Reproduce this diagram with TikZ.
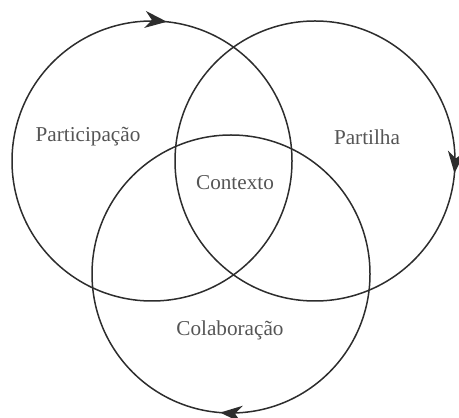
\documentclass[tikz,border=0pt]{standalone}
\usepackage{fontspec}
\setmainfont{Liberation Serif}
\usetikzlibrary{arrows.meta, decorations.markings}

\definecolor{inkline}{RGB}{45,45,45}
\definecolor{inktext}{RGB}{85,85,85}

\tikzset{
  ring/.style = {draw=inkline, line width=0.75pt},
  tip/.style = {postaction={decorate, decoration={markings,
      mark=at position #1 with {\arrowreversed[inkline]{Stealth[length=11pt, width=8.5pt, inset=3.5pt]}}}}},
  lbl/.style = {text=inktext, font=\fontsize{10.6}{12}\selectfont, inner sep=0pt}
}

\begin{document}
\begin{tikzpicture}[x=0.5pt, y=0.5pt]
\useasboundingbox (0,0) rectangle (459,417);

% centros dos circulos
\coordinate (cpart) at (152,256);
\coordinate (cparti) at (315,256);
\coordinate (ccola) at (231,143);

\draw[ring, tip=0.233] (cpart) circle[radius=140];
\draw[ring, tip=0.986] (cparti) circle[radius=140];
\draw[ring, tip=0.7375] (ccola) circle[radius=139];

% textos
\node[lbl] (part) at (88,280) {Participação};
\node[lbl] (parti) at (367,280) {Partilha};
\node[lbl] (cont) at (235,234) {Contexto};
\node[lbl] (cola) at (230,87) {Colaboração};
\end{tikzpicture}
\end{document}
